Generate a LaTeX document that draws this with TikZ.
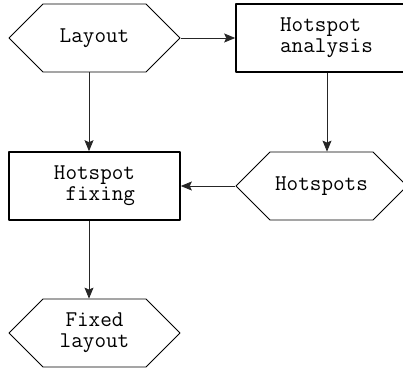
\documentclass[tikz,border=0pt]{standalone}
\usetikzlibrary{shapes.symbols,arrows.meta}

\tikzset{
  datahex/.style={signal, signal to=west and east, signal pointer angle=90,
    draw, line width=0.8pt, minimum width=171pt, minimum height=68pt, inner sep=0pt},
  procbox/.style={rectangle, draw, line width=1.6pt, minimum height=68pt, inner sep=0pt},
  flow/.style={-{Stealth[length=11pt,width=9pt,inset=2pt]}, line width=0.8pt, black!85}
}

\begin{document}
\begin{tikzpicture}[x=1pt, y=-1pt, font=\ttfamily\fontsize{22.5}{21}\selectfont, line join=round]
  \useasboundingbox (0,0) rectangle (403,371);

  \node[datahex] (layout) at (94.5,38) {Layout};
  \node[procbox, minimum width=181pt, align=left] (analysis) at (326.5,38) {Hotspot\\analysis};
  \node[procbox, minimum width=171pt, align=right] (fixing) at (94.5,186) {Hotspot\\fixing};
  \node[datahex] (hotspots) at (321.5,186) {Hotspots};
  \node[datahex, align=center] (fixed) at (94.5,333) {Fixed\\layout};

  \coordinate (lcol) at (89,0);
  \coordinate (rcol) at (327,0);

  \draw[flow] (layout.east) -- (analysis.west);
  \draw[flow] (layout.south -| lcol) -- (fixing.north -| lcol);
  \draw[flow] (analysis.south -| rcol) -- (hotspots.north -| rcol);
  \draw[flow] (hotspots.west) -- (fixing.east);
  \draw[flow] (fixing.south -| lcol) -- (fixed.north -| lcol);
\end{tikzpicture}
\end{document}
